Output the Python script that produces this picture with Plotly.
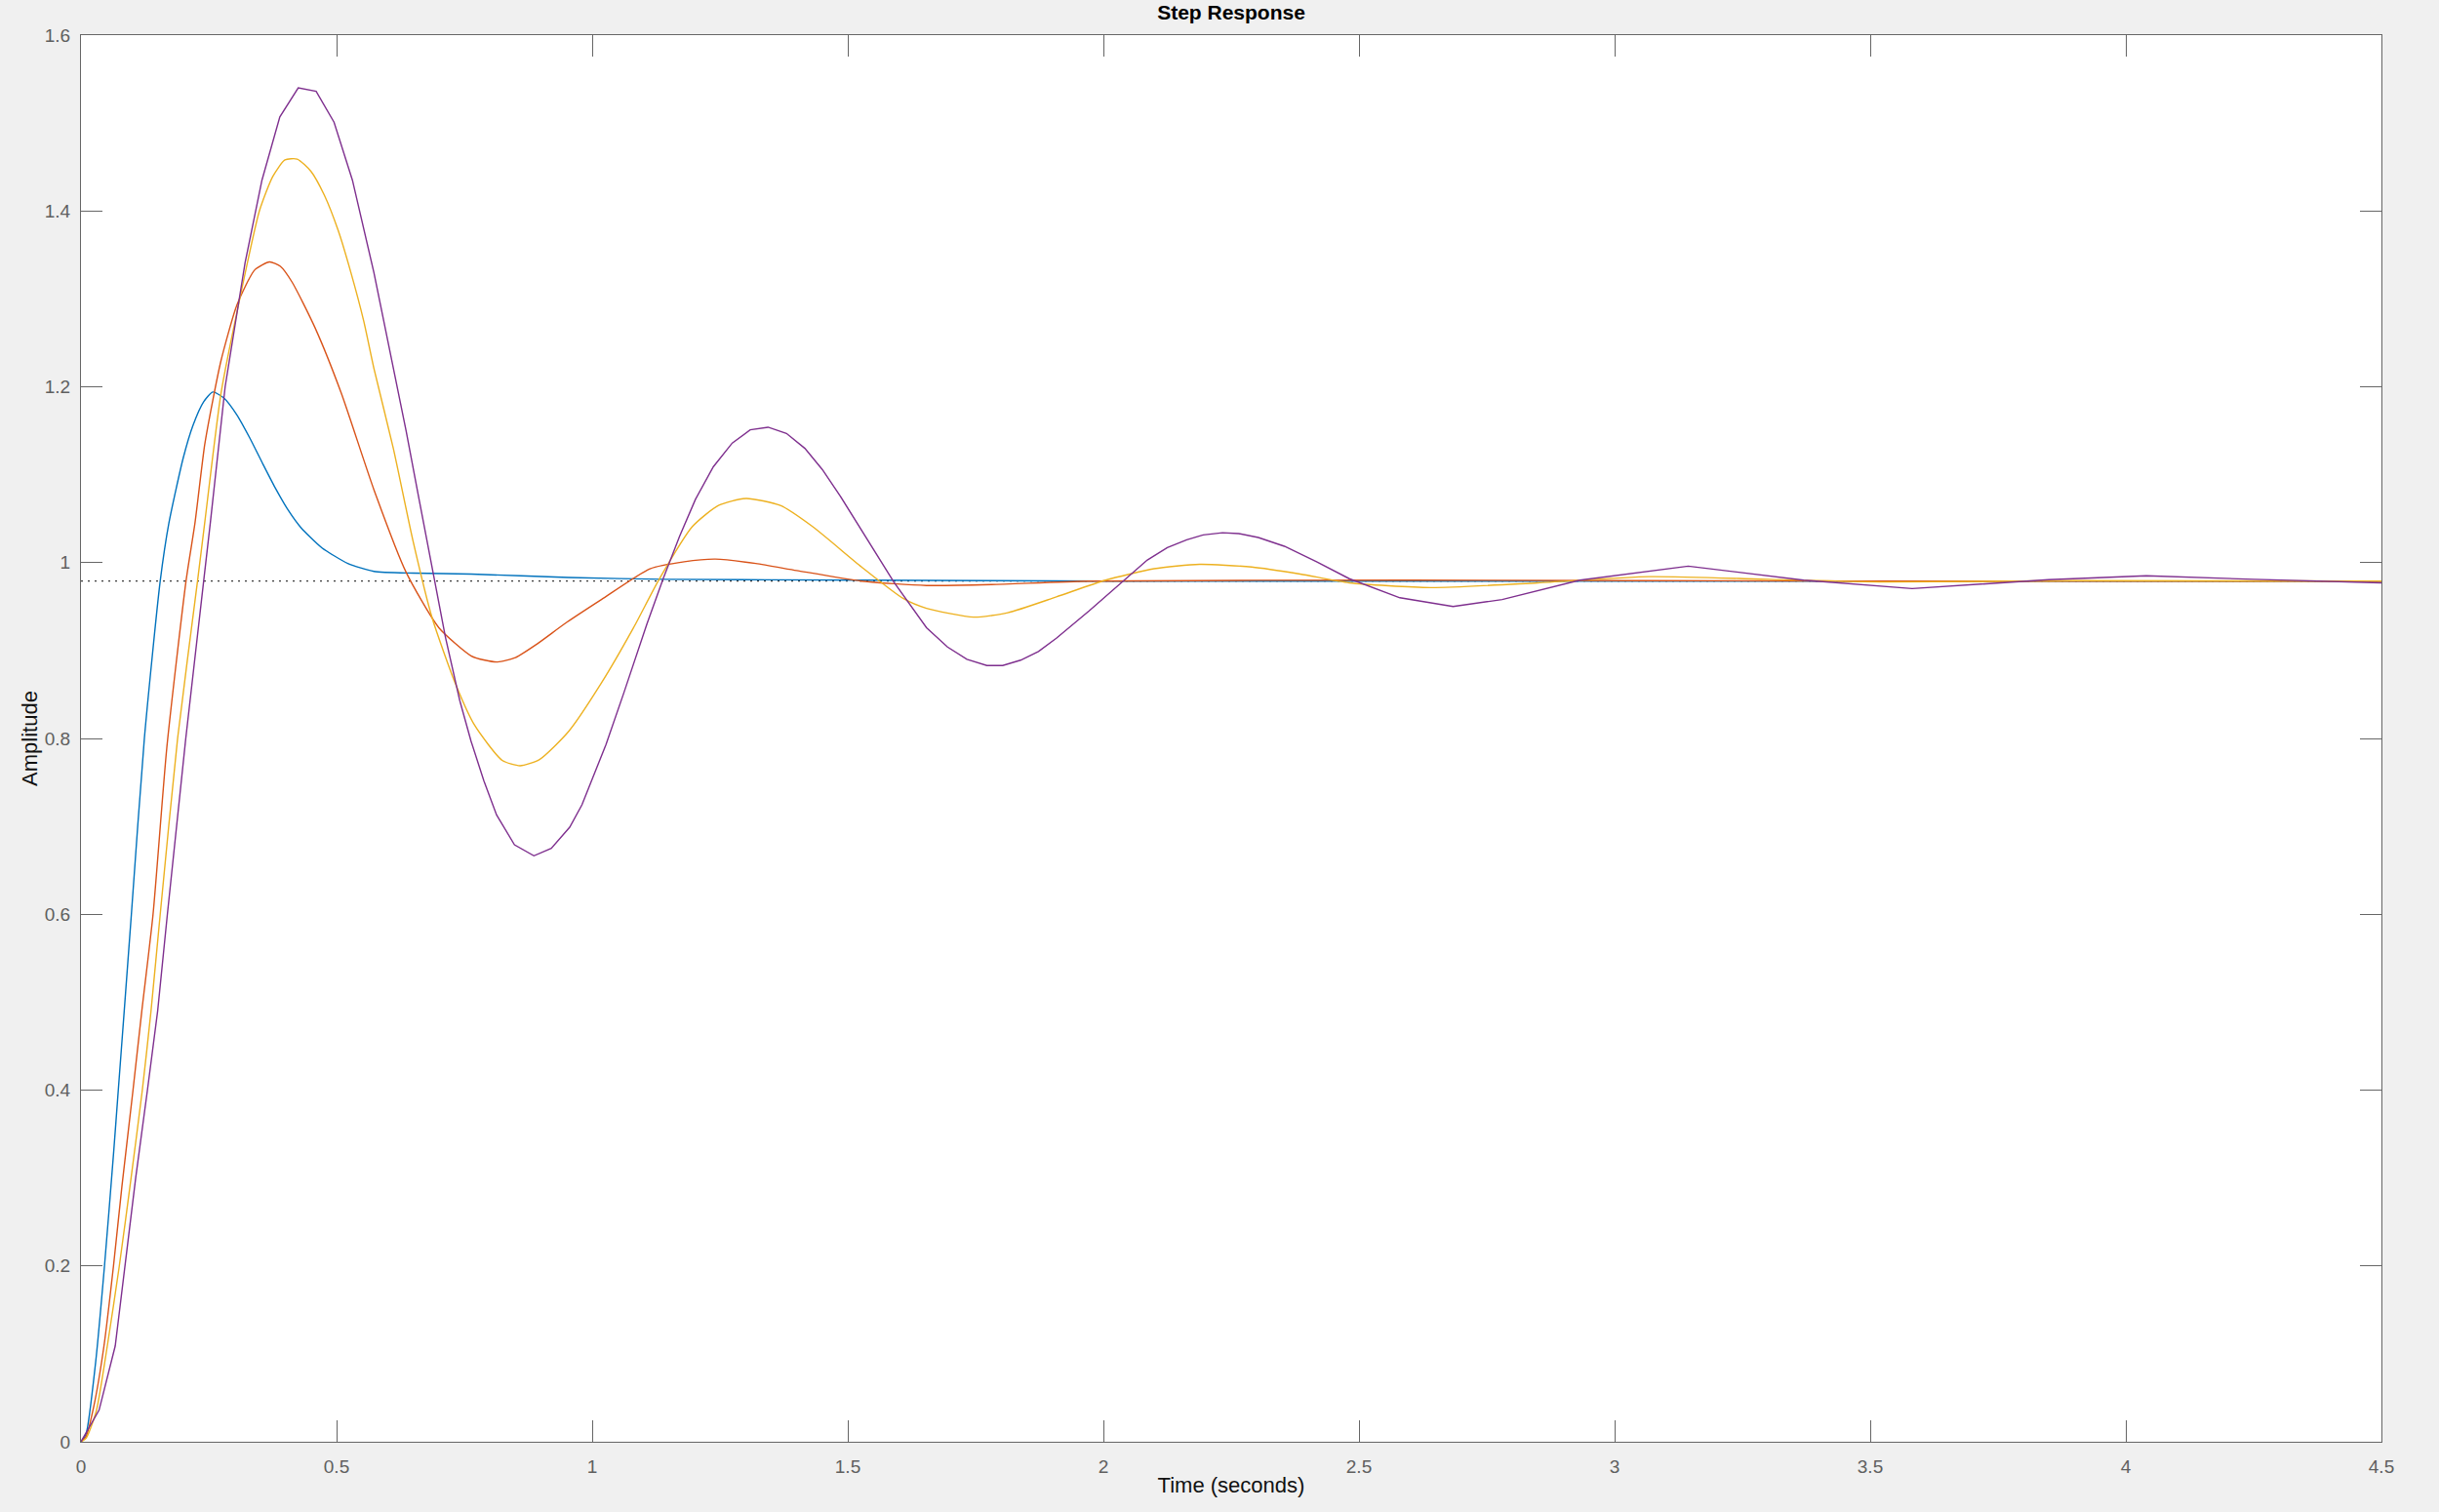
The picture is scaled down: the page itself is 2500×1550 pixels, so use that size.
import plotly.graph_objects as go

# ---- data ----
t_blue = [0, 0.010, 0.0286, 0.046, 0.064, 0.073, 0.0846, 0.0986, 0.124, 0.155, 0.172, 0.200, 0.219,
          0.240, 0.258, 0.280, 0.305, 0.330, 0.356, 0.380, 0.405, 0.430, 0.471, 0.522, 0.573, 0.650,
          0.763, 0.954, 1.145, 1.527, 2.0, 3.0, 4.5]
y_blue = [0, 0.009, 0.09, 0.2, 0.33, 0.4, 0.49, 0.6, 0.8, 0.979, 1.045, 1.119, 1.156,
          1.183, 1.194, 1.187, 1.168, 1.142, 1.112, 1.085, 1.060, 1.040, 1.017, 0.999, 0.990, 0.988,
          0.987, 0.983, 0.981, 0.980, 0.979, 0.979, 0.979]

t_orange = [0, 0.010, 0.025, 0.045, 0.0636, 0.080, 0.1018, 0.119, 0.141, 0.168, 0.2055, 0.223, 0.242,
            0.258, 0.274, 0.305, 0.340, 0.369, 0.390, 0.413, 0.458, 0.509, 0.573, 0.636, 0.700, 0.763,
            0.790, 0.815, 0.850, 0.891, 0.950, 1.018, 1.113, 1.180, 1.241, 1.320, 1.400, 1.527, 1.654,
            1.781, 1.972, 2.6, 3.5, 4.5]
y_orange = [0, 0.006, 0.04, 0.109, 0.2, 0.29, 0.4, 0.49, 0.6, 0.79, 0.979, 1.045, 1.134,
            1.185, 1.230, 1.293, 1.333, 1.342, 1.337, 1.319, 1.267, 1.193, 1.083, 0.989, 0.926, 0.894,
            0.889, 0.887, 0.892, 0.907, 0.932, 0.958, 0.993, 1.001, 1.004, 0.999, 0.991, 0.979, 0.974,
            0.975, 0.979, 0.980, 0.979, 0.979]

t_yellow = [0, 0.010, 0.030, 0.0515, 0.075, 0.098, 0.120, 0.137, 0.155, 0.189, 0.228, 0.242, 0.274,
            0.312, 0.349, 0.375, 0.399, 0.423, 0.450, 0.476, 0.503, 0.528, 0.553, 0.573, 0.611, 0.649,
            0.687, 0.732, 0.770, 0.824, 0.859, 0.897, 0.954, 1.018, 1.081, 1.132, 1.196, 1.247, 1.301,
            1.368, 1.431, 1.527, 1.609, 1.654, 1.746, 1.813, 1.908, 2.004, 2.099, 2.188, 2.290, 2.385,
            2.481, 2.640, 2.850, 3.068, 3.300, 3.530, 3.900, 4.5]
y_yellow = [0, 0.004, 0.035, 0.109, 0.2, 0.3, 0.4, 0.49, 0.6, 0.8, 0.979, 1.045, 1.193,
            1.304, 1.400, 1.439, 1.458, 1.459, 1.445, 1.418, 1.378, 1.330, 1.275, 1.221, 1.130, 1.026,
            0.937, 0.863, 0.815, 0.775, 0.769, 0.776, 0.808, 0.863, 0.926, 0.982, 1.041, 1.065, 1.073,
            1.065, 1.041, 0.995, 0.959, 0.948, 0.938, 0.943, 0.961, 0.980, 0.993, 0.998, 0.995, 0.987,
            0.977, 0.9716, 0.977, 0.984, 0.981, 0.978, 0.9795, 0.979]

t_purple = [0, 0.0354, 0.067, 0.086, 0.107, 0.130, 0.150, 0.169, 0.205, 0.240, 0.253, 0.282, 0.321,
            0.354, 0.389, 0.425, 0.460, 0.495, 0.531, 0.573, 0.605, 0.636, 0.662, 0.690, 0.713, 0.741,
            0.763, 0.788, 0.813, 0.848, 0.886, 0.920, 0.956, 0.980, 0.999, 1.027, 1.062, 1.107, 1.139,
            1.171, 1.202, 1.237, 1.274, 1.309, 1.344, 1.380, 1.416, 1.450, 1.485, 1.527, 1.590, 1.654,
            1.695, 1.733, 1.772, 1.803, 1.838, 1.873, 1.908, 1.972, 2.036, 2.086, 2.125, 2.163, 2.195,
            2.233, 2.265, 2.303, 2.354, 2.417, 2.481, 2.580, 2.684, 2.780, 2.932, 3.144, 3.370, 3.582,
            3.849, 4.040, 4.250, 4.5]
y_purple = [0, 0.036, 0.109, 0.2, 0.3, 0.4, 0.49, 0.6, 0.8, 0.979, 1.045, 1.2, 1.341,
            1.435, 1.507, 1.540, 1.536, 1.501, 1.435, 1.330, 1.240, 1.150, 1.070, 0.985, 0.915, 0.843,
            0.797, 0.752, 0.713, 0.679, 0.6665, 0.675, 0.699, 0.7245, 0.752, 0.793, 0.852, 0.930, 0.982,
            1.030, 1.072, 1.109, 1.136, 1.151, 1.154, 1.147, 1.130, 1.106, 1.076, 1.037, 0.978, 0.926,
            0.904, 0.890, 0.883, 0.883, 0.889, 0.899, 0.914, 0.945, 0.978, 1.003, 1.017, 1.026, 1.0315,
            1.034, 1.033, 1.0286, 1.0186, 1.001, 0.9817, 0.960, 0.950, 0.958, 0.980, 0.996, 0.980, 0.9705,
            0.9805, 0.985, 0.981, 0.977]

t_final = [0, 4.5]
y_final = [0.979, 0.979]

x_ticks = [0, 0.5, 1, 1.5, 2, 2.5, 3, 3.5, 4, 4.5]
x_tick_text = ["0", "0.5", "1", "1.5", "2", "2.5", "3", "3.5", "4", "4.5"]
y_ticks = [0, 0.2, 0.4, 0.6, 0.8, 1.0, 1.2, 1.4, 1.6]
y_tick_text = ["0", "0.2", "0.4", "0.6", "0.8", "1", "1.2", "1.4", "1.6"]

# ---- figure ----
fig = go.Figure()
fig.add_trace(go.Scatter(x=t_final, y=y_final, mode="lines",
                         line=dict(color="#3a3a3a", width=1.2, dash="2px,5px"), hoverinfo="skip"))
series = [
    (t_blue, y_blue, "#0072BD", "spline"),
    (t_orange, y_orange, "#D95319", "spline"),
    (t_yellow, y_yellow, "#EDB120", "spline"),
    (t_purple, y_purple, "#7E2F8E", "linear"),
]
for tx, vy, col, shp in series:
    fig.add_trace(go.Scatter(x=tx, y=vy, mode="lines",
                             line=dict(color=col, width=1.4, shape=shp, smoothing=0.6)))

font_family = "Liberation Sans, Arial, Helvetica, sans-serif"
axis_common = dict(
    showgrid=False, zeroline=False, showline=True, linecolor="#666666", linewidth=1.3,
    mirror="ticks", ticks="inside", ticklen=22, tickwidth=1.3, tickcolor="#666666",
    tickfont=dict(family=font_family, size=19, color="#5f5f5f"),
)

fig.update_layout(
    width=2500, height=1550,
    paper_bgcolor="#f0f0f0", plot_bgcolor="#ffffff",
    margin=dict(l=83, r=59, t=36, b=72),
    showlegend=False,
    title=dict(text="Step Response", x=0.5, xref="paper", xanchor="center",
               y=1 - 13 / 1550, yref="container", yanchor="middle",
               font=dict(family=font_family, size=21, color="#000000", weight="bold")),
    xaxis=dict(range=[0, 4.5], tickvals=x_ticks, ticktext=x_tick_text, ticklabelstandoff=8,
               title=dict(text="Time (seconds)", standoff=1,
                          font=dict(family=font_family, size=22, color="#111111")),
               **axis_common),
    yaxis=dict(range=[0, 1.6], tickvals=y_ticks, ticktext=y_tick_text, ticklabelstandoff=6,
               title=dict(text="Amplitude", standoff=0,
                          font=dict(family=font_family, size=22, color="#111111")),
               **axis_common),
)

fig.write_html(
    "out.html",
    config={"displayModeBar": False},
    post_script="document.body.style.margin='0';document.body.style.background='#f0f0f0';",
)
